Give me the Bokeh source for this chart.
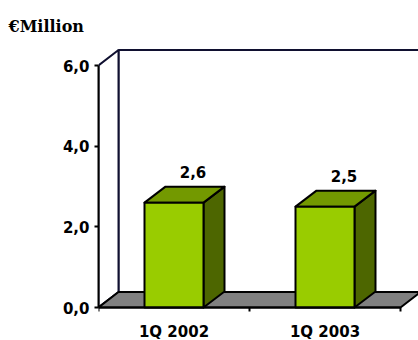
from bokeh.plotting import figure
from bokeh.models import Range1d, LinearAxis, FixedTicker
from bokeh.core.properties import value
from bokeh.embed import file_html
from bokeh.resources import INLINE

# ---- data ----
categories = ["1Q 2002", "1Q 2003"]
revenue = [2.6, 2.5]
value_labels = ["2,6", "2,5"]
y_ticks = [0, 2, 4, 6]
y_tick_labels = ["0,0", "2,0", "4,0", "6,0"]
unit_label = "€Million"

# ---- layout / style ----
W, H = 418, 340
LEFT, TOP = 98, 45
ZERO_PX = 307           # pixel row of the value 0
FRAME_W, FRAME_H = W - LEFT, H - TOP
X_PX = 151.0            # pixels per category slot
Y_PX = 242.0 / 6.0      # pixels per unit
y_max = max(y_ticks)
x_end = FRAME_W / X_PX
y_start = -(H - ZERO_PX) / Y_PX
y_end = y_start + FRAME_H / Y_PX

wall_dx, wall_dy = 20 / X_PX, 15.5 / Y_PX
bar_dx, bar_dy = 21 / X_PX, 16 / Y_PX
bar_w = 59 / X_PX

FRONT = "#99CC00"
TOPC = "#739900"
SIDE = "#4D6600"
FLOOR = "#808080"
WALL_LINE = "#101030"
FONT = "DejaVu Sans"

p = figure(width=W, height=H, x_range=Range1d(0, x_end), y_range=Range1d(y_start, y_end),
           output_backend="svg", toolbar_location=None,
           x_axis_type=None, y_axis_type=None,
           min_border_left=LEFT, min_border_right=0, min_border_top=TOP,
           min_border_bottom=0)
p.outline_line_color = None
p.xgrid.visible = False
p.ygrid.visible = False
p.background_fill_color = "white"
p.border_fill_color = "white"

n = len(categories)

# back wall
far = x_end + 1
p.patch([wall_dx, wall_dx, far, far], [wall_dy, y_max + wall_dy, y_max + wall_dy, wall_dy],
        fill_color="white", line_color=WALL_LINE, line_width=2)
# side wall
p.patch([0, 0, wall_dx, wall_dx], [0, y_max, y_max + wall_dy, wall_dy],
        fill_color="white", line_color=WALL_LINE, line_width=2)
# floor
p.patch([0, n, n + wall_dx, wall_dx], [0, 0, wall_dy, wall_dy],
        fill_color=FLOOR, line_color="black", line_width=2)

# bars
for i, v in enumerate(revenue):
    c = i + 0.5
    x0, x1 = c - bar_w / 2, c + bar_w / 2
    p.patch([x1, x1 + bar_dx, x1 + bar_dx, x1], [0, bar_dy, v + bar_dy, v],
            fill_color=SIDE, line_color="black", line_width=2, line_join="round")
    p.patch([x0, x1, x1 + bar_dx, x0 + bar_dx], [v, v, v + bar_dy, v + bar_dy],
            fill_color=TOPC, line_color="black", line_width=2, line_join="round")
    p.patch([x0, x1, x1, x0], [0, 0, v, v],
            fill_color=FRONT, line_color="black", line_width=2, line_join="round")

# value labels
lx = [i + 0.5 + 19 / X_PX for i in range(n)]
ly = [v + bar_dy + 14.5 / Y_PX for v in revenue]
p.text(x=lx, y=ly, text=value_labels, text_align="center", text_baseline="middle",
       text_font=value(FONT), text_font_style="bold", text_font_size="15px", text_color="black")

# y axis
yax = LinearAxis(ticker=FixedTicker(ticks=y_ticks), bounds=(0, y_max))
yax.major_label_overrides = {t: s for t, s in zip(y_ticks, y_tick_labels)}
yax.axis_line_color = "black"
yax.axis_line_width = 2
yax.major_tick_out = 4
yax.major_tick_in = 0
yax.major_tick_line_width = 2
yax.minor_tick_line_color = None
yax.major_label_standoff = 5
yax.major_label_text_font = FONT
yax.major_label_text_font_style = "bold"
yax.major_label_text_font_size = "15px"
yax.major_label_text_color = "black"
p.add_layout(yax, "left")

# x axis, pinned at value 0
centers = [i + 0.5 for i in range(n)]
xax = LinearAxis(ticker=FixedTicker(ticks=centers, minor_ticks=list(range(n + 1))),
                 bounds=(0, n), fixed_location=0)
xax.major_label_overrides = {c: s for c, s in zip(centers, categories)}
xax.axis_line_color = "black"
xax.axis_line_width = 2
xax.major_tick_out = 0
xax.major_tick_in = 0
xax.major_tick_line_color = None
xax.minor_tick_out = 4
xax.minor_tick_in = 0
xax.minor_tick_line_width = 2
xax.minor_tick_line_color = "black"
xax.major_label_standoff = 11
xax.major_label_text_font = FONT
xax.major_label_text_font_style = "bold"
xax.major_label_text_font_size = "15px"
xax.major_label_text_color = "black"
p.add_layout(xax, "below")

# title
p.title.text = unit_label
p.title.align = "left"
p.title.offset = 8 - LEFT
p.title.text_font = "DejaVu Serif"
p.title.text_font_style = "bold"
p.title.text_font_size = "16px"
p.title.text_color = "black"
p.title.standoff = 19

open("out.html", "w").write(file_html(p, INLINE))
